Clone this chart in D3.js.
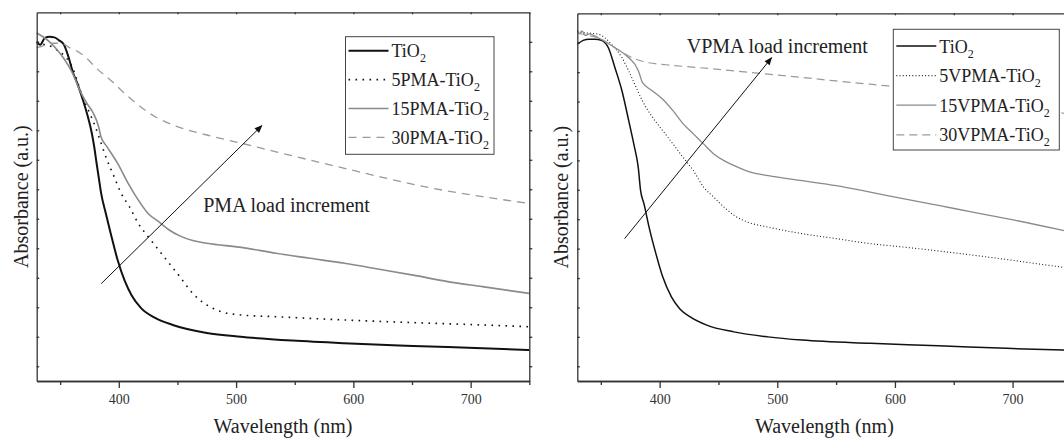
<!DOCTYPE html>
<html>
<head>
<meta charset="utf-8">
<script src="https://cdn.jsdelivr.net/npm/d3@7"></script>
<style>
  body { margin: 0; background: #fff; }
  svg { display: block; }
  text { font-family: "Liberation Serif", "Times New Roman", serif; fill: #222; }
</style>
</head>
<body>
<svg id="chart" width="1064" height="438"></svg>
<script>
// Axis ticks
const majorTicks = [400, 500, 600, 700];
const minorTicks = [350, 450, 550, 650, 750];
const yTicks = [0, 0.1, 0.2, 0.3, 0.4, 0.5, 0.6, 0.7, 0.8, 0.9, 1.0, 1.1];

// PMA series: [wavelength (nm), absorbance (a.u.)]
const tio2A = [[330,1.10],[333,1.09],[337,1.113],[341,1.117],[345,1.115],[349,1.105],[353,1.092],[357,1.05],[361,0.995],[365,0.955],[369,0.908],[373,0.855],[377,0.79],[379,0.745],[381,0.69],[383,0.637],[385,0.585],[389,0.517],[393,0.452],[399,0.36],[405,0.29],[411,0.24],[419,0.197],[431,0.164],[446,0.14],[475,0.113],[504,0.100],[548,0.087],[592,0.078],[651,0.069],[710,0.061],[750,0.055]];
const pma5A = [[330,1.10],[337,1.09],[343,1.083],[348,1.07],[353,1.055],[358,1.03],[362,0.998],[368,0.925],[374,0.869],[380,0.812],[384,0.767],[390,0.699],[396,0.643],[402,0.586],[409,0.541],[416.5,0.485],[425,0.439],[434,0.394],[443,0.349],[452,0.304],[463,0.247],[475,0.208],[487,0.185],[504,0.174],[534,0.168],[592,0.157],[651,0.148],[710,0.140],[750,0.134]];
const pma15A = [[330,1.13],[335,1.118],[341,1.10],[347,1.075],[353,1.044],[360,0.998],[368,0.925],[373,0.89],[378.4,0.857],[382.8,0.812],[384.8,0.778],[390,0.744],[399,0.688],[408,0.620],[416.5,0.564],[425,0.518],[434,0.490],[443,0.462],[452,0.442],[463,0.426],[475,0.417],[504.5,0.403],[534,0.383],[563,0.366],[592.5,0.349],[622,0.329],[651,0.309],[680.5,0.287],[710,0.270],[750,0.247]];
const pma30A = [[330,1.08],[335,1.085],[340,1.095],[351,1.095],[358,1.08],[365.5,1.066],[372.6,1.044],[381,1.01],[393,0.97],[405,0.925],[416.5,0.886],[431,0.846],[446,0.818],[475,0.784],[504.5,0.756],[534,0.727],[563,0.699],[592.5,0.671],[622,0.643],[651,0.617],[680.5,0.594],[710,0.575],[750,0.552]];

// VPMA series: [wavelength (nm), absorbance (a.u.)]
const tio2B = [[330,1.095],[335,1.108],[340,1.112],[345,1.112],[350.6,1.108],[356.4,1.083],[362,1.015],[368,0.936],[373.7,0.835],[378,0.756],[381.8,0.676],[383.8,0.597],[386.7,0.552],[391,0.473],[396.8,0.383],[402.6,0.304],[410,0.236],[417,0.196],[426,0.168],[440,0.140],[463,0.117],[492,0.100],[521,0.089],[579,0.078],[637,0.070],[695,0.061],[743,0.055],[750,0.054]];
const vpma5B = [[330,1.138],[338,1.133],[347.7,1.129],[359,1.095],[368,1.049],[373.7,1.004],[379.5,0.953],[385.3,0.903],[394,0.846],[402.6,0.801],[411.3,0.756],[420,0.710],[428.7,0.665],[437.3,0.609],[446,0.575],[454.7,0.541],[463.4,0.513],[475,0.490],[492.3,0.473],[521,0.451],[550,0.434],[579,0.417],[608,0.405],[637,0.392],[666,0.378],[695,0.363],[722,0.348],[750,0.333]];
const vpma15B = [[330,1.142],[332,1.13],[334,1.14],[337,1.125],[340,1.13],[347.7,1.117],[362,1.083],[373.7,1.049],[382,1.004],[383.8,0.982],[385.3,0.965],[394,0.936],[402.6,0.908],[411.3,0.869],[420,0.824],[428.7,0.790],[437.3,0.756],[446,0.722],[454.7,0.699],[463.4,0.682],[477.8,0.659],[492.3,0.648],[521,0.631],[550,0.614],[579,0.592],[608,0.569],[637,0.547],[666,0.524],[695,0.502],[743,0.462],[750,0.456]];
const vpma30B = [[330,1.134],[338,1.125],[347.7,1.117],[362,1.083],[376.6,1.049],[391,1.032],[405.5,1.025],[434.4,1.015],[463.4,1.004],[492.3,0.993],[521,0.982],[550,0.970],[579,0.959],[594,0.953],[620,0.94],[650,0.925],[680,0.905],[710,0.885],[740,0.863],[750,0.855]];

// Legend names
const pmaNames = ["TiO|2", "5PMA-TiO|2", "15PMA-TiO|2", "30PMA-TiO|2"];
const vpmaNames = ["TiO|2", "5VPMA-TiO|2", "15VPMA-TiO|2", "30VPMA-TiO|2"];

const xDomain = [330, 750];
const yDomain = [-0.05, 1.2];
const svg = d3.select("#chart");

svg.append("defs").append("marker")
  .attr("id", "arrowhead")
  .attr("viewBox", "0 0 10 10")
  .attr("refX", 9).attr("refY", 5)
  .attr("markerUnits", "userSpaceOnUse")
  .attr("markerWidth", 10).attr("markerHeight", 8)
  .attr("orient", "auto")
  .append("path").attr("d", "M0,1 L10,5 L0,9 Z").attr("fill", "#111");

function drawPanel(cfg) {
  const x = d3.scaleLinear().domain(xDomain).range([cfg.left, cfg.right]);
  const y = d3.scaleLinear().domain(yDomain).range([cfg.bottom, cfg.top]);
  const g = svg.append("g");

  const line = d3.line().x(d => x(d[0])).y(d => y(d[1])).curve(d3.curveMonotoneX);

  g.selectAll("path.curve").data(cfg.series).join("path")
    .attr("class", "curve")
    .attr("d", s => line(s.data))
    .attr("fill", "none")
    .attr("stroke", s => s.color)
    .attr("stroke-width", s => s.width)
    .attr("stroke-dasharray", s => s.dash || null);

  const styleAxis = sel => {
    sel.attr("font-family", null).attr("font-size", null);
    sel.selectAll("path.domain, line").attr("stroke", "#333").attr("stroke-width", 1.3);
  };

  // bottom axis: labelled major ticks + minor ticks
  g.append("g").attr("transform", `translate(0,${cfg.bottom})`)
    .call(d3.axisBottom(x).tickValues(majorTicks).tickSize(7).tickSizeOuter(0).tickPadding(6).tickFormat(d3.format("d")))
    .call(styleAxis)
    .call(a => a.selectAll("text").attr("font-size", 14).style("fill", "#333"));
  g.append("g").attr("transform", `translate(0,${cfg.bottom})`)
    .call(d3.axisBottom(x).tickValues(minorTicks).tickSize(4).tickSizeOuter(0).tickFormat(""))
    .call(styleAxis);

  // top frame with small inward ticks
  g.append("g").attr("transform", `translate(0,${cfg.top})`)
    .call(d3.axisTop(x).tickValues(majorTicks.concat(minorTicks)).tickSize(-2).tickSizeOuter(0).tickFormat(""))
    .call(styleAxis);

  // left axis: inward ticks, no labels
  g.append("g").attr("transform", `translate(${cfg.left},0)`)
    .call(d3.axisLeft(y).tickValues(yTicks).tickSize(-2.5).tickSizeOuter(0).tickFormat(""))
    .call(styleAxis);

  // right frame: outward ticks
  g.append("g").attr("transform", `translate(${cfg.right},0)`)
    .call(d3.axisRight(y).tickValues(yTicks).tickSize(3).tickSizeOuter(0).tickFormat(""))
    .call(styleAxis);

  // axis titles
  g.append("text")
    .attr("x", (cfg.left + cfg.right) / 2).attr("y", 433)
    .attr("text-anchor", "middle").attr("font-size", 20)
    .text("Wavelength (nm)");
  g.append("text")
    .attr("transform", `translate(${cfg.left - 9},${(cfg.top + cfg.bottom) / 2}) rotate(-90)`)
    .attr("text-anchor", "middle").attr("font-size", 20)
    .text("Absorbance (a.u.)");

  // annotation arrow and label
  g.append("line")
    .attr("x1", x(cfg.arrow[0][0])).attr("y1", y(cfg.arrow[0][1]))
    .attr("x2", x(cfg.arrow[1][0])).attr("y2", y(cfg.arrow[1][1]))
    .attr("stroke", "#111").attr("stroke-width", 1)
    .attr("marker-end", "url(#arrowhead)");
  g.append("text")
    .attr("x", x(cfg.note.at[0])).attr("y", y(cfg.note.at[1]))
    .attr("font-size", 20)
    .text(cfg.note.text);

  // legend
  const lg = g.append("g");
  lg.append("rect")
    .attr("x", cfg.legend.x).attr("y", cfg.legend.y)
    .attr("width", cfg.legend.w).attr("height", cfg.legend.h)
    .attr("fill", "#fff").attr("stroke", "#444").attr("stroke-width", 1);
  cfg.series.forEach((s, i) => {
    const ly = cfg.legend.rowY + i * cfg.legend.step;
    lg.append("line")
      .attr("x1", cfg.legend.x + 3).attr("x2", cfg.legend.x + 3 + cfg.legend.sample)
      .attr("y1", ly).attr("y2", ly)
      .attr("stroke", s.color).attr("stroke-width", s.width)
      .attr("stroke-dasharray", s.dash || null);
    const parts = s.name.split("|");
    const t = lg.append("text")
      .attr("x", cfg.legend.x + cfg.legend.sample + 6).attr("y", ly + 6.5)
      .attr("font-size", 18);
    t.append("tspan").text(parts[0]);
    t.append("tspan").attr("font-size", 12).attr("dy", 5).text(parts[1]);
  });
}

drawPanel({
  left: 36.7, right: 529.3, top: 12.3, bottom: 381,
  series: [
    { name: pmaNames[0], data: tio2A, color: "#111", width: 2 },
    { name: pmaNames[1], data: pma5A, color: "#111", width: 1.6, dash: "1.6,5.4" },
    { name: pmaNames[2], data: pma15A, color: "#8a8a8a", width: 1.6 },
    { name: pmaNames[3], data: pma30A, color: "#9a9a9a", width: 1.3, dash: "8,6" }
  ],
  arrow: [[385, 0.28], [522, 0.816]],
  note: { text: "PMA load increment", at: [472, 0.523] },
  legend: { x: 345.5, y: 36.7, w: 148.5, h: 117.6, rowY: 50.7, step: 28.9, sample: 40 }
});

drawPanel({
  left: 577.3, right: 1071.4, top: 13.3, bottom: 381,
  series: [
    { name: vpmaNames[0], data: tio2B, color: "#111", width: 1.5 },
    { name: vpmaNames[1], data: vpma5B, color: "#222", width: 1.1, dash: "1,2.2" },
    { name: vpmaNames[2], data: vpma15B, color: "#8a8a8a", width: 1.3 },
    { name: vpmaNames[3], data: vpma30B, color: "#9a9a9a", width: 1.2, dash: "8,5" }
  ],
  arrow: [[370.2, 0.434], [495.2, 1.049]],
  note: { text: "VPMA load increment", at: [423, 1.065] },
  legend: { x: 893.3, y: 29.3, w: 166, h: 120.7, rowY: 46, step: 29.6, sample: 40 }
});
</script>
</body>
</html>
